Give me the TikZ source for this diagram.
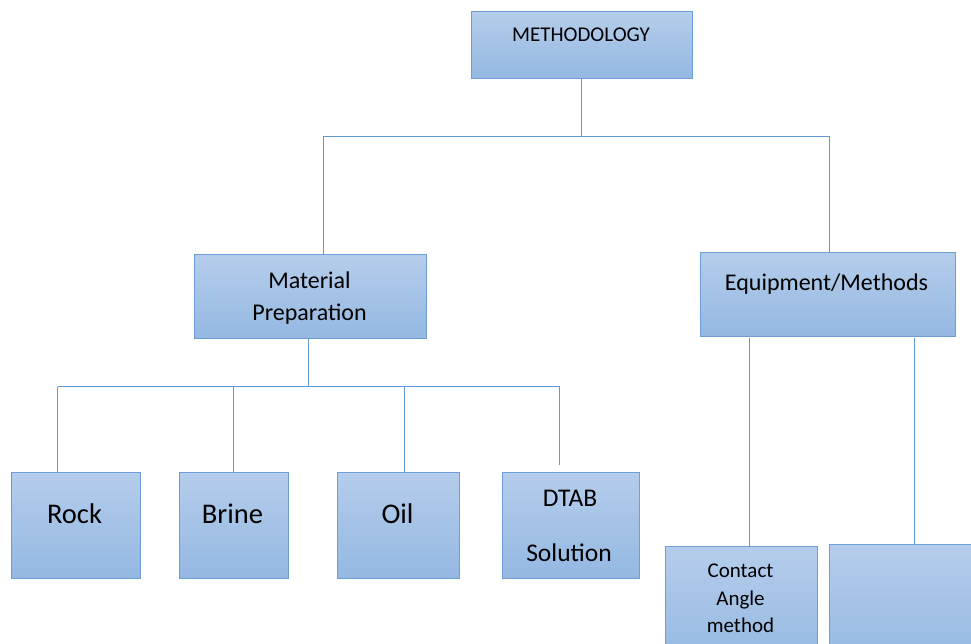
\documentclass[tikz,border=0pt]{standalone}
\usepackage{fontspec}
\setmainfont{Carlito}
\usetikzlibrary{calc}
\definecolor{boxtop}{RGB}{181,205,235}
\definecolor{boxbot}{RGB}{148,184,226}
\definecolor{boxedge}{RGB}{108,159,216}
\definecolor{connc}{RGB}{96,152,212}
\tikzset{
  box/.style={rectangle, inner sep=0pt, top color=boxtop, bottom color=boxbot, draw=boxedge, line width=1pt, anchor=north west},
  conn/.style={draw=connc, line width=1pt},
  lbl/.style={inner sep=0pt, anchor=base, text=black},
  fA/.style={font=\fontsize{21}{25}\selectfont},
  fB/.style={font=\fontsize{24}{28}\selectfont},
  fD/.style={font=\fontsize{25.5}{30}\selectfont},
  fC/.style={font=\fontsize{28.5}{32}\selectfont},
}
\begin{document}
\begin{tikzpicture}[x=1pt,y=-1pt]
\useasboundingbox (0,0) rectangle (971,644);
\clip (0,0) rectangle (971,644);
% boxes
\node[box, minimum width=221pt, minimum height=67pt] (meth) at (470.5,11.5) {};
\node[box, minimum width=232pt, minimum height=83pt] (mat) at (193.5,254.5) {};
\node[box, minimum width=255pt, minimum height=83pt] (eq) at (699.5,252.5) {};
\node[box, minimum width=129pt, minimum height=106pt] (rock) at (10.5,471.5) {};
\node[box, minimum width=109pt, minimum height=106pt] (brine) at (178.5,471.5) {};
\node[box, minimum width=122pt, minimum height=106pt] (oil) at (337,471.5) {};
\node[box, minimum width=137pt, minimum height=106pt] (dtab) at (502,471.5) {};
\node[box, minimum width=152pt, minimum height=120pt] (contact) at (664.5,546) {};
\node[box, minimum width=170pt, minimum height=120pt] (blank) at (828.5,544) {};
% labels
\node[lbl, fA] (methT) at (581,42) {METHODOLOGY};
\node[lbl, fB] (matT1) at (309.5,288.5) {Material};
\node[lbl, fB] (matT2) at (309.5,320) {Preparation};
\node[lbl, fB] (eqT) at (826.5,290) {Equipment/Methods};
\node[lbl, fC] (rockT) at (74.5,523.5) {Rock};
\node[lbl, fC] (brineT) at (232.5,523.5) {Brine};
\node[lbl, fC] (oilT) at (397.5,523.5) {Oil};
\node[lbl, fD] (dtabT1) at (570,506.5) {DTAB};
\node[lbl, fD] (dtabT2) at (569,561.5) {Solution};
\node[lbl, fA] (cT1) at (740.5,577.5) {Contact};
\node[lbl, fA] (cT2) at (740.5,605) {Angle};
\node[lbl, fA] (cT3) at (740.5,632) {method};
% connector coordinates
\coordinate (b1L) at (323.5,136.5);
\coordinate (b1R) at (829,136.5);
\coordinate (b2L) at (57.5,386.5);
\coordinate (b2B) at (233.5,386.5);
\coordinate (b2O) at (404.5,386.5);
\coordinate (b2R) at (559.5,386.5);
\coordinate (dtabEnd) at (559.5,464.5);
\coordinate (e1) at (749.5,337.5);
\coordinate (e2) at (914,337.5);
% connectors
\draw[conn] (meth.south) -- (meth.south |- b1L);
\draw[conn] (b1L) -- (b1R);
\draw[conn] (b1L) -- (b1L |- mat.north);
\draw[conn] (b1R) -- (b1R |- eq.north);
\draw[conn] (mat.south -| 308,0) -- (308,386.5);
\draw[conn] (b2L) -- (b2R);
\draw[conn] (b2L) -- (b2L |- rock.north);
\draw[conn] (b2B) -- (b2B |- brine.north);
\draw[conn] (b2O) -- (b2O |- oil.north);
\draw[conn] (b2R) -- (dtabEnd);
\draw[conn] (e1) -- (e1 |- contact.north);
\draw[conn] (e2) -- (e2 |- blank.north);
\end{tikzpicture}
\end{document}
